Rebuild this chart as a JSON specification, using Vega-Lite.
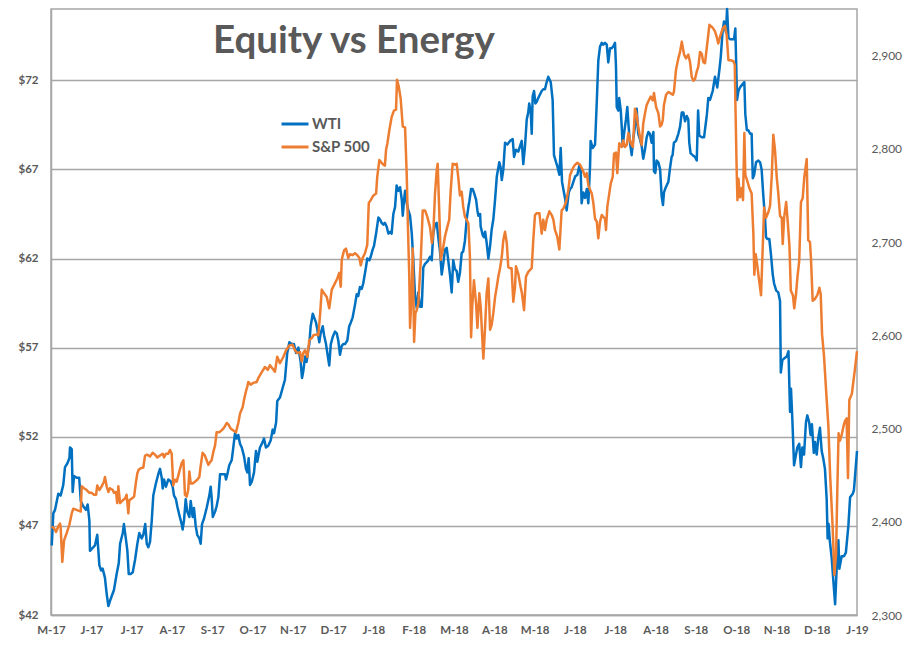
{
  "$schema": "https://vega.github.io/schema/vega-lite/v6.json",
  "autosize": {"type": "none"},
  "padding": {"left": 51, "top": 9, "right": 53, "bottom": 44},
  "width": 806,
  "height": 606,
  "background": "white",
  "title": {"text": "Equity vs Energy", "anchor": "start", "frame": "group", "offset": 0, "dx": 162, "dy": 84, "baseline": "alphabetic", "font": "Lato", "fontSize": 38.5, "fontWeight": "bold", "color": "#595959"},
  "config": {
    "view": {"stroke": "#a6a6a6", "strokeWidth": 1.5},
    "axis": {"labelFont": "Lato", "labelFontWeight": "bold", "labelColor": "#595959", "labelFontSize": 11.5, "ticks": false, "title": null, "domainColor": "#a6a6a6", "domainWidth": 1.5, "labelFlush": false, "labelOverlap": false, "labelBound": false}
  },
  "datasets": {
    "wti": [
      {"day":0.4,"price":45.9},{"day":1.2,"price":47.7},{"day":2.1,"price":47.9},{"day":3.8,"price":48.8},{"day":5.0,"price":48.7},{"day":6.4,"price":49.3},{"day":7.3,"price":50.3},{"day":8.5,"price":50.5},{"day":9.6,"price":50.8},{"day":9.9,"price":51.4},{"day":10.8,"price":51.3},{"day":11.3,"price":48.9},{"day":12.0,"price":49.8},{"day":13.4,"price":49.7},{"day":14.7,"price":49.7},{"day":15.5,"price":48.4},{"day":16.8,"price":48.1},{"day":18.2,"price":47.9},{"day":19.1,"price":48.2},{"day":20.0,"price":47.3},{"day":20.3,"price":45.6},{"day":22.0,"price":45.8},{"day":22.9,"price":45.9},{"day":24.1,"price":46.5},{"day":25.2,"price":44.8},{"day":26.1,"price":44.5},{"day":26.9,"price":44.6},{"day":28.1,"price":44.1},{"day":29.0,"price":43.2},{"day":29.9,"price":42.5},{"day":31.1,"price":42.9},{"day":32.8,"price":43.4},{"day":34.2,"price":44.3},{"day":35.3,"price":44.9},{"day":36.0,"price":46.0},{"day":37.4,"price":46.6},{"day":38.0,"price":47.1},{"day":39.1,"price":46.2},{"day":39.8,"price":45.6},{"day":40.5,"price":44.3},{"day":41.5,"price":44.3},{"day":42.6,"price":44.4},{"day":43.8,"price":45.1},{"day":45.0,"price":46.0},{"day":46.0,"price":46.6},{"day":47.3,"price":46.3},{"day":48.1,"price":46.5},{"day":49.1,"price":47.1},{"day":49.9,"price":46.0},{"day":50.7,"price":45.8},{"day":51.6,"price":46.1},{"day":52.5,"price":47.3},{"day":53.3,"price":48.7},{"day":54.7,"price":49.4},{"day":55.9,"price":49.9},{"day":56.8,"price":50.2},{"day":57.7,"price":49.7},{"day":58.2,"price":49.1},{"day":58.9,"price":49.6},{"day":59.9,"price":49.2},{"day":61.1,"price":49.6},{"day":62.4,"price":49.5},{"day":63.4,"price":49.2},{"day":64.1,"price":48.7},{"day":65.1,"price":48.5},{"day":65.8,"price":48.1},{"day":66.9,"price":47.6},{"day":68.1,"price":47.1},{"day":68.6,"price":46.8},{"day":69.3,"price":47.3},{"day":70.2,"price":48.5},{"day":71.0,"price":47.8},{"day":72.1,"price":47.5},{"day":72.8,"price":48.4},{"day":73.8,"price":47.5},{"day":74.5,"price":48.0},{"day":75.4,"price":47.0},{"day":76.2,"price":46.5},{"day":77.3,"price":46.3},{"day":78.0,"price":46.0},{"day":78.7,"price":47.1},{"day":79.7,"price":47.4},{"day":81.1,"price":48.0},{"day":82.5,"price":48.7},{"day":83.2,"price":49.2},{"day":83.7,"price":48.6},{"day":84.3,"price":47.5},{"day":85.5,"price":47.8},{"day":86.3,"price":48.1},{"day":87.2,"price":48.6},{"day":88.1,"price":49.9},{"day":89.5,"price":49.9},{"day":90.7,"price":49.9},{"day":91.2,"price":49.6},{"day":91.9,"price":49.9},{"day":92.9,"price":50.4},{"day":94.2,"price":50.7},{"day":95.0,"price":51.4},{"day":95.9,"price":52.2},{"day":96.8,"price":51.9},{"day":97.6,"price":52.1},{"day":98.5,"price":51.6},{"day":99.4,"price":51.4},{"day":100.6,"price":50.9},{"day":101.6,"price":50.2},{"day":102.3,"price":50.0},{"day":103.0,"price":50.8},{"day":103.7,"price":49.3},{"day":104.7,"price":49.5},{"day":105.8,"price":50.0},{"day":106.8,"price":51.2},{"day":107.5,"price":50.6},{"day":108.2,"price":51.0},{"day":108.9,"price":51.4},{"day":110.3,"price":51.7},{"day":111.0,"price":51.9},{"day":112.0,"price":51.4},{"day":113.2,"price":51.5},{"day":114.5,"price":51.8},{"day":115.5,"price":52.4},{"day":116.2,"price":52.2},{"day":117.3,"price":52.8},{"day":117.9,"price":54.0},{"day":119.3,"price":54.2},
      {"day":121.9,"price":55.2},{"day":123.1,"price":56.7},{"day":124.2,"price":57.3},{"day":125.4,"price":57.2},{"day":126.6,"price":57.2},{"day":127.7,"price":56.7},{"day":128.9,"price":57.0},{"day":130.1,"price":56.2},{"day":130.8,"price":55.3},{"day":131.5,"price":55.7},{"day":132.4,"price":56.5},{"day":133.2,"price":56.2},{"day":134.1,"price":56.9},{"day":134.6,"price":57.2},{"day":135.3,"price":58.2},{"day":136.4,"price":58.9},{"day":137.1,"price":58.7},{"day":138.1,"price":58.4},{"day":138.8,"price":58.0},{"day":139.8,"price":57.3},{"day":140.5,"price":57.8},{"day":141.6,"price":58.2},{"day":142.3,"price":57.7},{"day":143.3,"price":57.2},{"day":144.0,"price":56.7},{"day":145.0,"price":56.0},{"day":145.8,"price":57.2},{"day":146.8,"price":57.6},{"day":148.0,"price":57.9},{"day":148.9,"price":57.8},{"day":149.7,"price":57.4},{"day":150.6,"price":56.6},{"day":151.5,"price":57.1},{"day":152.3,"price":57.2},{"day":153.2,"price":57.2},{"day":154.4,"price":57.4},{"day":155.4,"price":58.2},{"day":156.2,"price":58.4},{"day":157.2,"price":58.7},{"day":158.4,"price":59.4},{"day":159.3,"price":60.0},{"day":160.1,"price":59.9},{"day":161.0,"price":60.4},{"day":161.9,"price":60.3},{"day":162.7,"price":60.6},{"day":164.1,"price":61.5},{"day":164.8,"price":62.0},{"day":165.9,"price":61.9},{"day":166.6,"price":62.1},{"day":167.6,"price":62.5},{"day":168.3,"price":62.7},{"day":169.4,"price":63.4},{"day":170.6,"price":64.3},{"day":171.4,"price":64.2},{"day":172.3,"price":64.0},{"day":173.2,"price":63.9},{"day":174.0,"price":64.0},{"day":174.9,"price":63.8},{"day":175.8,"price":63.4},{"day":176.7,"price":63.5},{"day":177.5,"price":63.4},{"day":178.4,"price":64.5},{"day":179.3,"price":64.9},{"day":180.1,"price":66.1},{"day":181.0,"price":65.8},{"day":181.9,"price":66.0},{"day":182.8,"price":65.3},{"day":183.3,"price":64.4},{"day":184.0,"price":65.3},{"day":184.5,"price":65.8},{"day":185.4,"price":65.1},{"day":186.2,"price":64.7},{"day":187.1,"price":64.4},{"day":188.0,"price":63.4},{"day":188.8,"price":61.9},{"day":189.7,"price":59.9},{"day":190.6,"price":59.2},{"day":191.4,"price":60.1},{"day":192.3,"price":59.3},{"day":193.2,"price":59.3},{"day":194.0,"price":61.5},{"day":194.9,"price":61.7},{"day":195.8,"price":61.8},{"day":196.6,"price":61.9},{"day":197.5,"price":62.1},{"day":198.4,"price":61.9},{"day":199.2,"price":63.4},{"day":200.1,"price":63.9},{"day":201.0,"price":64.0},{"day":201.8,"price":63.2},{"day":202.7,"price":62.4},{"day":203.6,"price":61.1},{"day":204.4,"price":61.7},{"day":205.3,"price":62.5},{"day":206.2,"price":62.6},{"day":207.0,"price":61.9},{"day":207.9,"price":61.1},{"day":208.8,"price":60.1},{"day":209.6,"price":61.9},{"day":210.5,"price":61.4},{"day":211.4,"price":61.3},{"day":212.2,"price":60.7},{"day":213.1,"price":61.2},{"day":214.0,"price":62.3},{"day":214.8,"price":62.4},{"day":215.7,"price":63.0},{"day":216.6,"price":64.2},{"day":217.5,"price":64.9},{"day":218.0,"price":65.2},{"day":218.9,"price":65.9},{"day":219.7,"price":65.9},{"day":220.4,"price":65.7},{"day":221.5,"price":65.3},{"day":222.2,"price":64.7},{"day":222.7,"price":64.4},{"day":223.6,"price":64.5},{"day":223.9,"price":63.8},{"day":225.0,"price":63.3},{"day":225.6,"price":63.2},{"day":226.2,"price":63.5},{"day":227.0,"price":62.9},{"day":227.9,"price":62.0},{"day":228.8,"price":62.7},{"day":229.6,"price":63.6},{"day":230.5,"price":64.2},{"day":231.4,"price":65.3},{"day":232.3,"price":66.6},{"day":233.1,"price":67.1},{"day":233.6,"price":67.4},{"day":234.3,"price":67.1},{"day":234.9,"price":66.4},{"day":235.7,"price":67.0},{"day":236.6,"price":68.5},
      {"day":237.8,"price":68.4},{"day":239.2,"price":68.6},{"day":240.6,"price":68.7},{"day":241.3,"price":67.7},{"day":242.3,"price":68.1},{"day":243.5,"price":68.0},{"day":244.4,"price":68.3},{"day":245.3,"price":68.6},{"day":246.1,"price":67.3},{"day":247.0,"price":68.3},{"day":247.9,"price":69.8},{"day":248.7,"price":70.2},{"day":249.2,"price":70.7},{"day":250.0,"price":70.2},{"day":250.5,"price":69.0},{"day":251.0,"price":71.1},{"day":251.7,"price":71.4},{"day":252.4,"price":70.7},{"day":253.1,"price":70.8},{"day":253.9,"price":71.0},{"day":254.8,"price":71.2},{"day":255.7,"price":71.4},{"day":256.5,"price":71.5},{"day":257.4,"price":71.5},{"day":258.3,"price":71.9},{"day":259.1,"price":72.2},{"day":260.4,"price":71.9},{"day":261.4,"price":70.9},{"day":262.1,"price":67.8},{"day":263.2,"price":67.4},{"day":263.8,"price":67.2},{"day":264.9,"price":66.7},{"day":265.6,"price":68.2},{"day":266.3,"price":66.3},{"day":267.3,"price":65.7},{"day":268.0,"price":65.3},{"day":268.7,"price":64.7},{"day":269.8,"price":65.7},{"day":270.5,"price":65.9},{"day":271.3,"price":66.0},{"day":272.2,"price":66.3},{"day":273.1,"price":66.6},{"day":274.3,"price":66.7},{"day":275.3,"price":67.2},{"day":276.0,"price":67.0},{"day":276.5,"price":65.1},{"day":277.4,"price":65.7},{"day":278.3,"price":65.4},{"day":279.2,"price":65.9},{"day":280.0,"price":65.1},{"day":280.9,"price":67.2},{"day":281.2,"price":68.6},{"day":282.3,"price":68.2},{"day":283.5,"price":68.4},{"day":284.4,"price":70.8},{"day":285.2,"price":73.1},{"day":286.1,"price":73.9},{"day":287.0,"price":74.1},{"day":287.8,"price":74.0},{"day":288.7,"price":74.1},{"day":289.6,"price":74.0},{"day":290.4,"price":73.0},{"day":291.3,"price":73.8},{"day":292.2,"price":73.8},{"day":293.0,"price":73.9},{"day":293.9,"price":74.1},{"day":294.4,"price":72.8},{"day":294.8,"price":70.5},{"day":295.6,"price":70.3},{"day":296.1,"price":71.0},{"day":296.9,"price":70.3},{"day":297.4,"price":69.4},{"day":297.9,"price":68.3},{"day":298.6,"price":69.0},{"day":299.6,"price":69.8},{"day":300.3,"price":70.5},{"day":301.0,"price":69.4},{"day":301.7,"price":68.5},{"day":302.6,"price":67.8},{"day":303.4,"price":68.7},{"day":304.3,"price":69.4},{"day":305.2,"price":70.4},{"day":306.0,"price":69.0},{"day":306.9,"price":68.7},{"day":307.8,"price":68.3},{"day":308.6,"price":67.6},{"day":309.5,"price":68.1},{"day":310.4,"price":68.8},{"day":311.3,"price":69.1},{"day":312.1,"price":69.0},{"day":313.0,"price":68.5},{"day":313.9,"price":69.1},{"day":314.2,"price":66.9},{"day":314.9,"price":66.8},{"day":315.6,"price":67.5},{"day":316.5,"price":67.4},{"day":317.4,"price":67.0},{"day":318.2,"price":65.5},{"day":318.9,"price":65.0},{"day":319.4,"price":65.7},{"day":320.0,"price":65.9},{"day":320.8,"price":66.1},{"day":321.7,"price":66.3},{"day":322.6,"price":67.1},{"day":323.4,"price":67.7},{"day":323.9,"price":67.8},{"day":324.6,"price":68.5},{"day":325.7,"price":68.6},{"day":326.9,"price":69.0},{"day":327.8,"price":69.4},{"day":328.7,"price":70.2},{"day":329.5,"price":70.2},{"day":330.4,"price":69.7},{"day":331.3,"price":70.0},{"day":332.1,"price":69.8},{"day":332.6,"price":68.5},{"day":333.3,"price":67.9},{"day":334.4,"price":67.8},{"day":335.6,"price":67.7},{"day":336.5,"price":67.5},{"day":337.2,"price":70.3},{"day":337.8,"price":68.9},{"day":339.1,"price":68.8},{"day":340.3,"price":68.8},{"day":341.8,"price":70.1},{"day":342.5,"price":71.0},{"day":343.4,"price":70.9},{"day":344.8,"price":71.4},{"day":346.0,"price":72.2},{"day":347.2,"price":71.6},{"day":348.3,"price":72.6},{"day":349.0,"price":73.3},{"day":350.0,"price":74.8},{"day":350.7,"price":75.3},{"day":351.7,"price":74.7},{"day":352.3,"price":76.0},{"day":353.0,"price":74.4},{"day":353.8,"price":74.3},{"day":355.2,"price":74.3},{"day":355.9,"price":74.3},{"day":356.6,"price":74.9},{"day":357.5,"price":70.9},{"day":358.2,"price":71.4},{"day":359.0,"price":71.6},{"day":360.5,"price":71.8},{"day":361.3,"price":71.9},{"day":361.8,"price":70.1},{"day":362.6,"price":69.2},{"day":363.4,"price":69.2},{"day":364.3,"price":69.0},{"day":365.1,"price":69.0},{"day":365.7,"price":66.5},{"day":366.4,"price":66.7},{"day":367.4,"price":67.4},{"day":368.6,"price":67.5},{"day":369.5,"price":67.4},{"day":370.3,"price":67.0},{"day":371.2,"price":65.5},{"day":372.1,"price":64.2},{"day":372.6,"price":63.2},{"day":373.3,"price":63.1},{"day":374.3,"price":63.1},{"day":375.1,"price":62.3},{"day":376.1,"price":61.1},{"day":376.8,"price":60.6},{"day":377.9,"price":60.2},{"day":379.0,"price":60.1},{"day":379.9,"price":59.6},{"day":380.3,"price":55.6},{"day":381.1,"price":56.3},{"day":382.1,"price":56.4},{"day":383.4,"price":56.5},{"day":384.3,"price":56.8},{"day":385.1,"price":53.4},{"day":385.6,"price":54.7},{"day":386.3,"price":53.0},{"day":387.2,"price":50.4},{"day":388.2,"price":51.0},{"day":388.9,"price":51.4},{"day":389.9,"price":51.6},{"day":390.8,"price":50.3},{"day":391.5,"price":51.4},{"day":392.4,"price":51.0},{"day":393.4,"price":52.8},{"day":394.1,"price":53.2},{"day":395.1,"price":52.8},{"day":395.8,"price":52.1},{"day":396.5,"price":52.7},{"day":397.5,"price":51.1},{"day":398.1,"price":51.7},{"day":399.0,"price":51.0},{"day":399.8,"price":51.9},{"day":400.7,"price":52.5},{"day":401.6,"price":51.2},{"day":402.4,"price":50.8},{"day":403.3,"price":50.2},{"day":404.2,"price":48.5},{"day":404.7,"price":46.3},{"day":405.2,"price":47.1},{"day":405.9,"price":46.1},{"day":406.8,"price":45.2},{"day":407.7,"price":43.9},{"day":408.6,"price":42.6},{"day":409.4,"price":44.6},{"day":410.3,"price":46.2},{"day":410.8,"price":44.6},{"day":412.0,"price":45.3},{"day":413.2,"price":45.3},{"day":414.2,"price":45.5},{"day":415.5,"price":47.0},{"day":416.4,"price":48.6},{"day":417.8,"price":48.8},{"day":418.4,"price":49.0},{"day":420.0,"price":51.2}
    ],
    "sp": [
      {"day":0.4,"close":2395},{"day":1.6,"close":2393},{"day":2.6,"close":2389},{"day":3.8,"close":2395},{"day":4.7,"close":2398},{"day":5.0,"close":2395},{"day":5.9,"close":2357},{"day":6.8,"close":2380},{"day":8.2,"close":2388},{"day":9.6,"close":2397},{"day":10.8,"close":2409},{"day":11.6,"close":2414},{"day":13.0,"close":2413},{"day":14.2,"close":2412},{"day":15.5,"close":2411},{"day":16.0,"close":2438},{"day":17.2,"close":2436},{"day":18.6,"close":2434},{"day":20.0,"close":2431},{"day":21.2,"close":2431},{"day":22.4,"close":2429},{"day":23.5,"close":2429},{"day":24.1,"close":2439},{"day":25.2,"close":2434},{"day":26.4,"close":2438},{"day":27.6,"close":2443},{"day":28.1,"close":2448},{"day":29.0,"close":2438},{"day":29.9,"close":2432},{"day":30.7,"close":2436},{"day":32.2,"close":2434},{"day":32.8,"close":2431},{"day":33.9,"close":2432},{"day":34.5,"close":2420},{"day":35.1,"close":2438},{"day":36.0,"close":2420},{"day":37.4,"close":2423},{"day":38.6,"close":2425},{"day":39.4,"close":2429},{"day":40.3,"close":2409},{"day":40.8,"close":2423},{"day":42.1,"close":2425},{"day":43.3,"close":2427},{"day":44.3,"close":2443},{"day":45.0,"close":2452},{"day":45.7,"close":2456},{"day":47.3,"close":2458},{"day":48.1,"close":2458},{"day":49.0,"close":2471},{"day":50.2,"close":2472},{"day":51.6,"close":2470},{"day":53.0,"close":2474},{"day":54.2,"close":2472},{"day":55.4,"close":2469},{"day":56.8,"close":2471},{"day":58.2,"close":2473},{"day":58.9,"close":2469},{"day":59.9,"close":2473},{"day":61.1,"close":2473},{"day":62.0,"close":2477},{"day":62.9,"close":2473},{"day":63.7,"close":2439},{"day":64.6,"close":2445},{"day":65.5,"close":2443},{"day":66.9,"close":2454},{"day":68.1,"close":2463},{"day":69.0,"close":2466},{"day":69.8,"close":2429},{"day":70.7,"close":2427},{"day":71.5,"close":2434},{"day":72.1,"close":2454},{"day":72.8,"close":2441},{"day":73.8,"close":2441},{"day":75.0,"close":2443},{"day":76.2,"close":2445},{"day":77.3,"close":2448},{"day":78.0,"close":2460},{"day":79.0,"close":2474},{"day":80.2,"close":2471},{"day":81.1,"close":2466},{"day":82.0,"close":2461},{"day":82.9,"close":2464},{"day":83.7,"close":2466},{"day":84.6,"close":2475},{"day":85.5,"close":2482},{"day":86.3,"close":2496},{"day":87.7,"close":2496},{"day":88.9,"close":2498},{"day":90.2,"close":2501},{"day":91.6,"close":2506},{"day":92.6,"close":2504},{"day":93.6,"close":2500},{"day":95.0,"close":2498},{"day":96.4,"close":2496},{"day":97.6,"close":2506},{"day":98.5,"close":2516},{"day":99.9,"close":2523},{"day":100.6,"close":2531},{"day":101.6,"close":2540},{"day":102.3,"close":2545},{"day":102.8,"close":2550},{"day":104.1,"close":2547},{"day":105.4,"close":2549},{"day":107.2,"close":2550},{"day":108.0,"close":2554},{"day":110.0,"close":2561},{"day":111.5,"close":2566},{"day":113.0,"close":2563},
      {"day":114.1,"close":2568},{"day":116.7,"close":2561},{"day":117.9,"close":2577},{"day":119.3,"close":2570},{"day":121.1,"close":2577},{"day":122.5,"close":2584},{"day":124.2,"close":2589},{"day":125.9,"close":2590},{"day":127.1,"close":2584},{"day":128.3,"close":2581},{"day":129.8,"close":2582},{"day":130.6,"close":2572},{"day":131.5,"close":2581},{"day":132.4,"close":2584},{"day":133.6,"close":2577},{"day":134.6,"close":2595},{"day":135.9,"close":2597},{"day":136.7,"close":2600},{"day":138.5,"close":2601},{"day":139.3,"close":2600},{"day":140.2,"close":2622},{"day":141.1,"close":2649},{"day":142.3,"close":2645},{"day":143.7,"close":2641},{"day":145.0,"close":2629},{"day":146.3,"close":2649},{"day":148.0,"close":2656},{"day":149.2,"close":2661},{"day":150.2,"close":2667},{"day":151.0,"close":2652},{"day":151.5,"close":2681},{"day":152.7,"close":2691},{"day":153.7,"close":2693},{"day":154.9,"close":2683},{"day":155.8,"close":2687},{"day":157.2,"close":2686},{"day":158.4,"close":2688},{"day":159.6,"close":2686},{"day":160.7,"close":2683},{"day":161.4,"close":2675},{"day":162.4,"close":2683},{"day":163.6,"close":2688},{"day":164.8,"close":2697},{"day":165.6,"close":2742},{"day":166.6,"close":2745},{"day":168.0,"close":2750},{"day":169.4,"close":2752},{"day":170.0,"close":2770},{"day":171.1,"close":2788},{"day":172.3,"close":2785},{"day":173.2,"close":2783},{"day":174.0,"close":2782},{"day":174.6,"close":2799},{"day":175.3,"close":2806},{"day":176.3,"close":2820},{"day":177.5,"close":2834},{"day":178.7,"close":2841},{"day":179.8,"close":2842},{"day":180.3,"close":2874},{"day":181.2,"close":2867},{"day":182.2,"close":2854},{"day":183.3,"close":2824},{"day":184.5,"close":2823},{"day":185.4,"close":2770},{"day":186.0,"close":2716},{"day":186.7,"close":2663},{"day":187.1,"close":2608},{"day":188.0,"close":2649},{"day":188.5,"close":2693},{"day":189.2,"close":2593},{"day":189.9,"close":2624},{"day":190.6,"close":2627},{"day":191.4,"close":2634},{"day":192.7,"close":2681},{"day":193.7,"close":2734},{"day":194.9,"close":2734},{"day":196.1,"close":2727},{"day":197.5,"close":2716},{"day":198.5,"close":2699},{"day":199.2,"close":2709},{"day":200.1,"close":2752},{"day":201.0,"close":2777},{"day":201.5,"close":2784},{"day":202.3,"close":2734},{"day":203.1,"close":2681},{"day":204.1,"close":2691},{"day":205.3,"close":2706},{"day":206.5,"close":2716},{"day":207.5,"close":2724},{"day":208.3,"close":2756},{"day":209.3,"close":2784},{"day":210.7,"close":2783},{"day":211.4,"close":2784},{"day":212.2,"close":2770},{"day":213.1,"close":2750},{"day":214.0,"close":2754},{"day":214.8,"close":2738},{"day":215.7,"close":2727},{"day":216.6,"close":2724},{"day":217.5,"close":2720},{"day":218.3,"close":2684},{"day":218.9,"close":2598},{"day":219.5,"close":2631},{"day":220.4,"close":2659},{"day":221.5,"close":2634},{"day":222.2,"close":2608},{"day":223.2,"close":2645},{"day":223.9,"close":2631},{"day":225.3,"close":2575},{"day":226.2,"close":2609},{"day":227.0,"close":2645},{"day":227.9,"close":2661},{"day":228.8,"close":2606},{"day":229.6,"close":2611},{"day":230.5,"close":2624},{"day":231.4,"close":2641},{"day":232.3,"close":2652},{"day":233.1,"close":2663},{"day":234.0,"close":2672},{"day":234.9,"close":2684},{"day":235.7,"close":2702},{"day":236.6,"close":2711},{"day":237.5,"close":2699},{"day":238.3,"close":2673},
      {"day":239.2,"close":2672},{"day":240.0,"close":2672},{"day":240.9,"close":2636},{"day":241.8,"close":2652},{"day":242.3,"close":2674},{"day":243.5,"close":2666},{"day":244.7,"close":2652},{"day":245.4,"close":2645},{"day":246.5,"close":2627},{"day":247.5,"close":2663},{"day":248.7,"close":2668},{"day":250.5,"close":2672},{"day":251.3,"close":2702},{"day":252.2,"close":2729},{"day":253.1,"close":2731},{"day":254.5,"close":2731},{"day":255.7,"close":2709},{"day":256.5,"close":2724},{"day":257.4,"close":2713},{"day":258.3,"close":2724},{"day":259.7,"close":2733},{"day":260.9,"close":2729},{"day":261.8,"close":2724},{"day":262.6,"close":2713},{"day":263.8,"close":2706},{"day":264.9,"close":2692},{"day":265.6,"close":2717},{"day":266.1,"close":2734},{"day":267.0,"close":2736},{"day":268.4,"close":2743},{"day":269.6,"close":2756},{"day":270.5,"close":2772},{"day":271.9,"close":2779},{"day":273.1,"close":2783},{"day":274.3,"close":2785},{"day":275.7,"close":2783},{"day":277.1,"close":2777},{"day":278.3,"close":2770},{"day":279.2,"close":2774},{"day":280.0,"close":2761},{"day":280.9,"close":2756},{"day":281.8,"close":2752},{"day":282.6,"close":2742},{"day":283.5,"close":2725},{"day":284.4,"close":2722},{"day":285.2,"close":2704},{"day":286.1,"close":2722},{"day":287.0,"close":2729},{"day":287.8,"close":2727},{"day":288.7,"close":2725},{"day":289.2,"close":2713},{"day":289.9,"close":2738},{"day":290.9,"close":2752},{"day":291.7,"close":2763},{"day":292.7,"close":2770},{"day":293.4,"close":2795},{"day":294.4,"close":2796},{"day":295.1,"close":2774},{"day":296.1,"close":2806},{"day":297.4,"close":2802},{"day":298.2,"close":2809},{"day":299.1,"close":2802},{"day":300.0,"close":2804},{"day":300.9,"close":2817},{"day":302.1,"close":2806},{"day":303.2,"close":2802},{"day":304.3,"close":2843},{"day":305.2,"close":2836},{"day":306.0,"close":2824},{"day":306.9,"close":2813},{"day":307.8,"close":2804},{"day":308.6,"close":2827},{"day":309.7,"close":2840},{"day":310.4,"close":2847},{"day":311.3,"close":2851},{"day":312.5,"close":2856},{"day":313.6,"close":2852},{"day":314.2,"close":2860},{"day":315.3,"close":2845},{"day":316.5,"close":2838},{"day":317.4,"close":2824},{"day":318.2,"close":2826},{"day":318.8,"close":2831},{"day":319.4,"close":2847},{"day":320.5,"close":2858},{"day":321.7,"close":2861},{"day":322.6,"close":2860},{"day":324.0,"close":2858},{"day":324.6,"close":2861},{"day":325.7,"close":2885},{"day":326.9,"close":2897},{"day":327.8,"close":2904},{"day":328.7,"close":2915},{"day":329.9,"close":2901},{"day":330.9,"close":2897},{"day":332.1,"close":2901},{"day":333.0,"close":2893},{"day":333.9,"close":2877},{"day":334.8,"close":2873},{"day":335.6,"close":2875},{"day":336.5,"close":2883},{"day":337.3,"close":2888},{"day":338.2,"close":2904},{"day":339.1,"close":2902},{"day":339.9,"close":2893},{"day":340.8,"close":2892},{"day":341.7,"close":2908},{"day":343.1,"close":2933},{"day":344.3,"close":2931},{"day":345.1,"close":2929},{"day":346.0,"close":2926},{"day":346.9,"close":2920},{"day":347.7,"close":2913},{"day":348.6,"close":2920},{"day":350.0,"close":2929},{"day":351.2,"close":2932},{"day":352.1,"close":2922},{"day":353.0,"close":2895},{"day":354.2,"close":2895},{"day":355.6,"close":2894},{"day":356.3,"close":2890},{"day":356.6,"close":2853},{"day":357.3,"close":2777},{"day":357.7,"close":2745},{"day":358.2,"close":2768},{"day":359.0,"close":2748},{"day":359.9,"close":2758},{"day":360.6,"close":2745},{"day":361.3,"close":2817},{"day":361.8,"close":2772},{"day":362.6,"close":2767},{"day":363.9,"close":2758},{"day":365.1,"close":2752},{"day":366.0,"close":2709},{"day":366.5,"close":2665},{"day":367.2,"close":2687},{"day":368.1,"close":2674},{"day":369.1,"close":2657},{"day":370.0,"close":2643},{"day":370.9,"close":2696},{"day":371.6,"close":2737},{"day":372.6,"close":2726},{"day":373.8,"close":2732},{"day":374.7,"close":2739},{"day":375.6,"close":2772},{"day":376.4,"close":2815},{"day":377.3,"close":2798},{"day":378.2,"close":2769},{"day":379.0,"close":2752},{"day":379.9,"close":2728},{"day":380.8,"close":2726},{"day":381.3,"close":2698},{"day":382.0,"close":2726},{"day":383.1,"close":2743},{"day":383.9,"close":2722},{"day":384.8,"close":2696},{"day":385.5,"close":2648},{"day":386.6,"close":2643},{"day":387.3,"close":2629},{"day":388.2,"close":2644},{"day":388.9,"close":2661},{"day":389.9,"close":2680},{"day":390.8,"close":2743},{"day":391.7,"close":2747},{"day":392.5,"close":2769},{"day":393.8,"close":2789},{"day":394.6,"close":2702},{"day":395.5,"close":2700},{"day":396.0,"close":2683},{"day":396.9,"close":2637},{"day":398.1,"close":2639},{"day":399.3,"close":2643},{"day":400.4,"close":2651},{"day":401.1,"close":2644},{"day":401.8,"close":2601},{"day":402.8,"close":2578},{"day":403.9,"close":2541},{"day":405.1,"close":2502},{"day":406.0,"close":2450},{"day":407.3,"close":2395},{"day":408.2,"close":2343},{"day":409.1,"close":2365},{"day":409.7,"close":2430},{"day":410.4,"close":2495},{"day":411.1,"close":2487},{"day":412.0,"close":2493},{"day":412.9,"close":2502},{"day":413.7,"close":2508},{"day":414.6,"close":2511},{"day":415.3,"close":2447},{"day":416.0,"close":2531},{"day":417.3,"close":2537},{"day":418.1,"close":2550},{"day":419.0,"close":2565},{"day":420.0,"close":2583}
    ]
  },
  "layer": [
    {
      "data": {"name": "wti"},
      "mark": {"type": "line", "strokeWidth": 2.5, "strokeJoin": "round"},
      "encoding": {
        "x": {"field": "day", "type": "quantitative", "scale": {"domain": [0, 420], "nice": false, "zero": false},
              "axis": {"values": [0,21,42,63,84,105,126,147,168,189,210,231,252,273,294,315,336,357,378,399,420], "labelExpr": "['M-17','J-17','J-17','A-17','S-17','O-17','N-17','D-17','J-18','F-18','M-18','A-18','M-18','J-18','J-18','A-18','S-18','O-18','N-18','D-18','J-19'][round(datum.value/21)]", "grid": false, "labelPadding": 9}},
        "y": {"field": "price", "type": "quantitative", "scale": {"domain": [42, 76], "nice": false, "zero": false},
              "axis": {"values": [42,47,52,57,62,67,72], "labelExpr": "'$' + datum.value", "grid": true, "gridColor": "#a6a6a6", "gridWidth": 1.5, "labelPadding": 13}},
        "color": {"datum": "WTI", "type": "nominal", "scale": {"domain": ["WTI", "S&P 500"], "range": ["#0070C0", "#ED7D31"]},
                  "legend": {"orient": "none", "legendX": 229, "legendY": 100, "title": null, "symbolType": "stroke", "symbolStrokeWidth": 3, "symbolSize": 729, "rowPadding": -9, "labelFont": "Lato", "labelFontSize": 15, "labelFontWeight": "bold", "labelColor": "#595959", "labelOffset": 2}}
      }
    },
    {
      "data": {"name": "sp"},
      "mark": {"type": "line", "strokeWidth": 2.5, "strokeJoin": "round"},
      "encoding": {
        "x": {"field": "day", "type": "quantitative"},
        "y": {"field": "close", "type": "quantitative", "scale": {"domain": [2300, 2950], "nice": false, "zero": false},
              "axis": {"orient": "right", "values": [2300,2400,2500,2600,2700,2800,2900], "format": ",.0f", "grid": false, "domain": false, "labelPadding": 14, "labelFontWeight": "normal", "labelFontSize": 12}},
        "color": {"datum": "S&P 500", "type": "nominal"}
      }
    }
  ],
  "resolve": {"scale": {"y": "independent"}}
}
